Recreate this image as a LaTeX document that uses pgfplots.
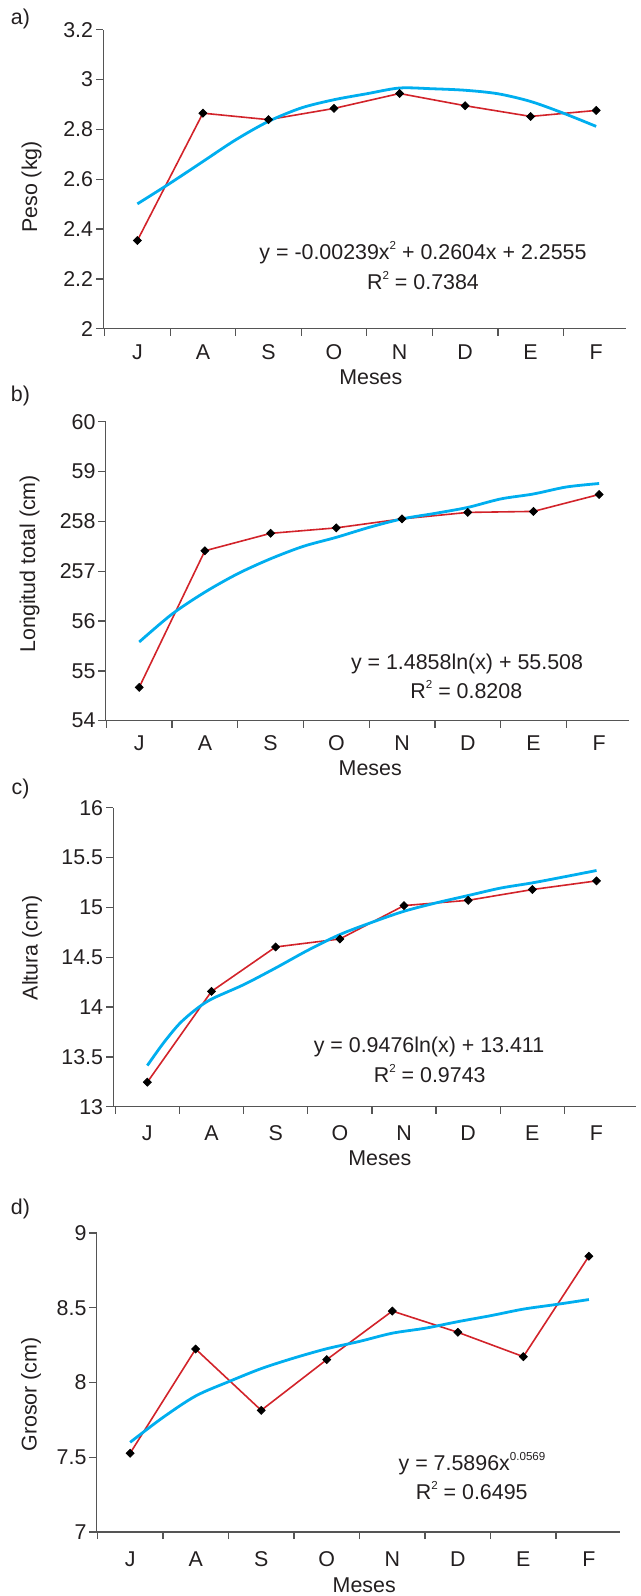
\documentclass[border=0pt]{standalone}
\usepackage{fontspec}
\setmainfont{Liberation Sans}
\usepackage{pgfplots}
\usepackage{pgfplotstable}
\pgfplotsset{compat=1.18}

\definecolor{serie}{HTML}{D2232A}
\definecolor{ajuste}{HTML}{00AEEF}
\definecolor{eje}{HTML}{555555}
\definecolor{texto}{HTML}{231F20}

\newcommand{\supi}[1]{\raisebox{0.9ex}{\fontsize{5.8}{6}\selectfont #1}}

% series (x = month index J..F = 1..8)
\pgfplotstableread{
x y
1 2.354
2 2.865
3 2.839
4 2.884
5 2.944
6 2.895
7 2.852
8 2.876
}\pesoDatos
\pgfplotstableread{
x y
1 2.501
1.5 2.584
2 2.671
2.5 2.758
3 2.832
3.5 2.886
4 2.919
4.5 2.943
5 2.966
5.5 2.963
6 2.957
6.5 2.943
7 2.912
7.5 2.865
8 2.812
}\pesoAjuste
\pgfplotstableread{
x y
1 54.67
2 57.41
3 57.76
4 57.87
5 58.05
6 58.18
7 58.20
8 58.54
}\longDatos
\pgfplotstableread{
x y
1 55.58
1.5 56.14
2 56.58
2.5 56.95
3 57.25
3.5 57.50
4 57.68
4.5 57.88
5 58.05
5.5 58.16
6 58.28
6.5 58.45
7 58.55
7.5 58.69
8 58.76
}\longAjuste
\pgfplotstableread{
x y
1 13.246
2 14.157
3 14.603
4 14.683
5 15.018
6 15.071
7 15.179
8 15.266
}\altDatos
\pgfplotstableread{
x y
1 13.413
1.25 13.638
1.5 13.832
1.75 13.973
2 14.080
2.5 14.224
3 14.392
3.5 14.569
4 14.727
4.5 14.850
5 14.961
5.5 15.045
6 15.119
6.5 15.193
7 15.246
7.5 15.307
8 15.370
}\altAjuste
\pgfplotstableread{
x y
1 7.527
2 8.224
3 7.814
4 8.153
5 8.478
6 8.336
7 8.173
8 8.845
}\grosDatos
\pgfplotstableread{
x y
1 7.600
1.5 7.766
2 7.910
2.5 8.005
3 8.093
3.5 8.164
4 8.226
4.5 8.275
5 8.330
5.5 8.363
6 8.407
6.5 8.447
7 8.491
7.5 8.522
8 8.555
}\grosAjuste

\pgfplotsset{
  panel/.style={
    scale only axis, anchor=south west,
    width=261.5pt, height=149.5pt,
    axis x line*=bottom, axis y line*=left,
    every non boxed x axis/.append style={x axis line style=-},
    every non boxed y axis/.append style={y axis line style=-},
    axis line style={eje, line width=0.65pt},
    tick style={eje, line width=0.65pt},
    tick align=outside, major tick length=3.6pt,
    xtick={0.5,1.5,...,7.5}, xticklabels={},
    extra x ticks={1,...,8}, extra x tick labels={J,A,S,O,N,D,E,F},
    extra x tick style={major tick length=0pt},
    ticklabel style={text=texto},
    yticklabel style={inner sep=1.3pt},
    label style={text=texto},
    xlabel={Meses},
    clip=false,
  },
  linea/.style={serie, line width=0.8pt, no marks},
  marcas/.style={only marks, mark=square*, mark size=1.4pt,
    mark options={black, rotate=45}},
  tendencia/.style={ajuste, line width=1.4pt, smooth, no marks},
}

\begin{document}
\fontsize{10.7}{12.8}\selectfont
\begin{tikzpicture}
\useasboundingbox (0,0) rectangle (320.5pt,-798pt);

% a) Peso
\begin{axis}[panel, at={(51.65pt,-164.35pt)},
  xmin=0.48, xmax=8.46, ymin=2, ymax=3.2,
  ytick={2,2.2,2.4,2.6,2.8,3,3.2}, yticklabels={2,2.2,2.4,2.6,2.8,3,3.2},
  extra x tick style={xticklabel style={anchor=base, yshift=-15.3pt}},
  xlabel style={at={(axis description cs:0.5,0)}, anchor=base, xshift=3pt, yshift=-27.8pt},
  ylabel={Peso (kg)},
  ylabel style={at={(axis description cs:-0.1373,0.474)}, anchor=center},
]
\addplot[linea] table {\pesoDatos};
\addplot[tendencia] table {\pesoAjuste};
\addplot[marcas] table {\pesoDatos};
\end{axis}

% b) Longitud total
\begin{axis}[panel, at={(52.85pt,-360.35pt)},
  xmin=0.49, xmax=8.45, ymin=54, ymax=60,
  ytick={54,55,56,57,58,59,60}, yticklabels={54,55,56,257,258,59,60},
  extra x tick style={xticklabel style={anchor=base, yshift=-14.9pt}},
  xlabel style={at={(axis description cs:0.5,0)}, anchor=base, xshift=1.5pt, yshift=-27.2pt},
  ylabel={Longitud total (cm)},
  ylabel style={at={(axis description cs:-0.1457,0.525)}, anchor=center},
]
\addplot[linea] table {\longDatos};
\addplot[tendencia] table {\longAjuste};
\addplot[marcas] table {\longDatos};
\end{axis}

% c) Altura
\begin{axis}[panel, at={(56.65pt,-553.35pt)},
  xmin=0.47, xmax=8.62, ymin=13, ymax=16,
  ytick={13,13.5,14,14.5,15,15.5,16}, yticklabels={13,13.5,14,14.5,15,15.5,16},
  extra x tick style={xticklabel style={anchor=base, yshift=-17pt}},
  xlabel style={at={(axis description cs:0.5,0)}, anchor=base, xshift=2.5pt, yshift=-29.2pt},
  ylabel={Altura (cm)},
  ylabel style={at={(axis description cs:-0.1555,0.531)}, anchor=center},
]
\addplot[linea] table {\altDatos};
\addplot[tendencia] table {\altAjuste};
\addplot[marcas] table {\altDatos};
\end{axis}

% d) Grosor
\begin{axis}[panel, at={(48.35pt,-766pt)},
  xmin=0.49, xmax=8.47, ymin=7, ymax=9,
  ytick={7,7.5,8,8.5,9}, yticklabels={7,7.5,8,8.5,9},
  extra x tick style={xticklabel style={anchor=base, yshift=-17.3pt}},
  xlabel style={at={(axis description cs:0.5,0)}, anchor=base, xshift=3pt, yshift=-30.3pt},
  ylabel={Grosor (cm)},
  ylabel style={at={(axis description cs:-0.1256,0.46)}, anchor=center},
]
\addplot[linea] table {\grosDatos};
\addplot[tendencia] table {\grosAjuste};
\addplot[marcas] table {\grosDatos};
\end{axis}

% panel letters and fitted equations
\begin{scope}[every node/.style={text=texto}]
\node at (10.25pt,-9.25pt) {a)};
\node at (10.25pt,-198pt) {b)};
\node at (10.25pt,-394.5pt) {c)};
\node at (10.25pt,-604.25pt) {d)};
\node[anchor=base] at (211.5pt,-129.65pt) {y = -0.00239x\supi{2} + 0.2604x + 2.2555};
\node[anchor=base] at (211.5pt,-144.65pt) {R\supi{2} = 0.7384};
\node[anchor=base] at (233.5pt,-334.95pt) {y = 1.4858ln(x) + 55.508};
\node[anchor=base] at (233.15pt,-349.3pt) {R\supi{2} = 0.8208};
\node[anchor=base] at (214.5pt,-526.3pt) {y = 0.9476ln(x) + 13.411};
\node[anchor=base] at (214.85pt,-541.3pt) {R\supi{2} = 0.9743};
\node[anchor=base] at (236pt,-735.45pt) {y = 7.5896x\supi{0.0569}};
\node[anchor=base] at (235.85pt,-749.65pt) {R\supi{2} = 0.6495};
\end{scope}
\end{tikzpicture}
\end{document}
